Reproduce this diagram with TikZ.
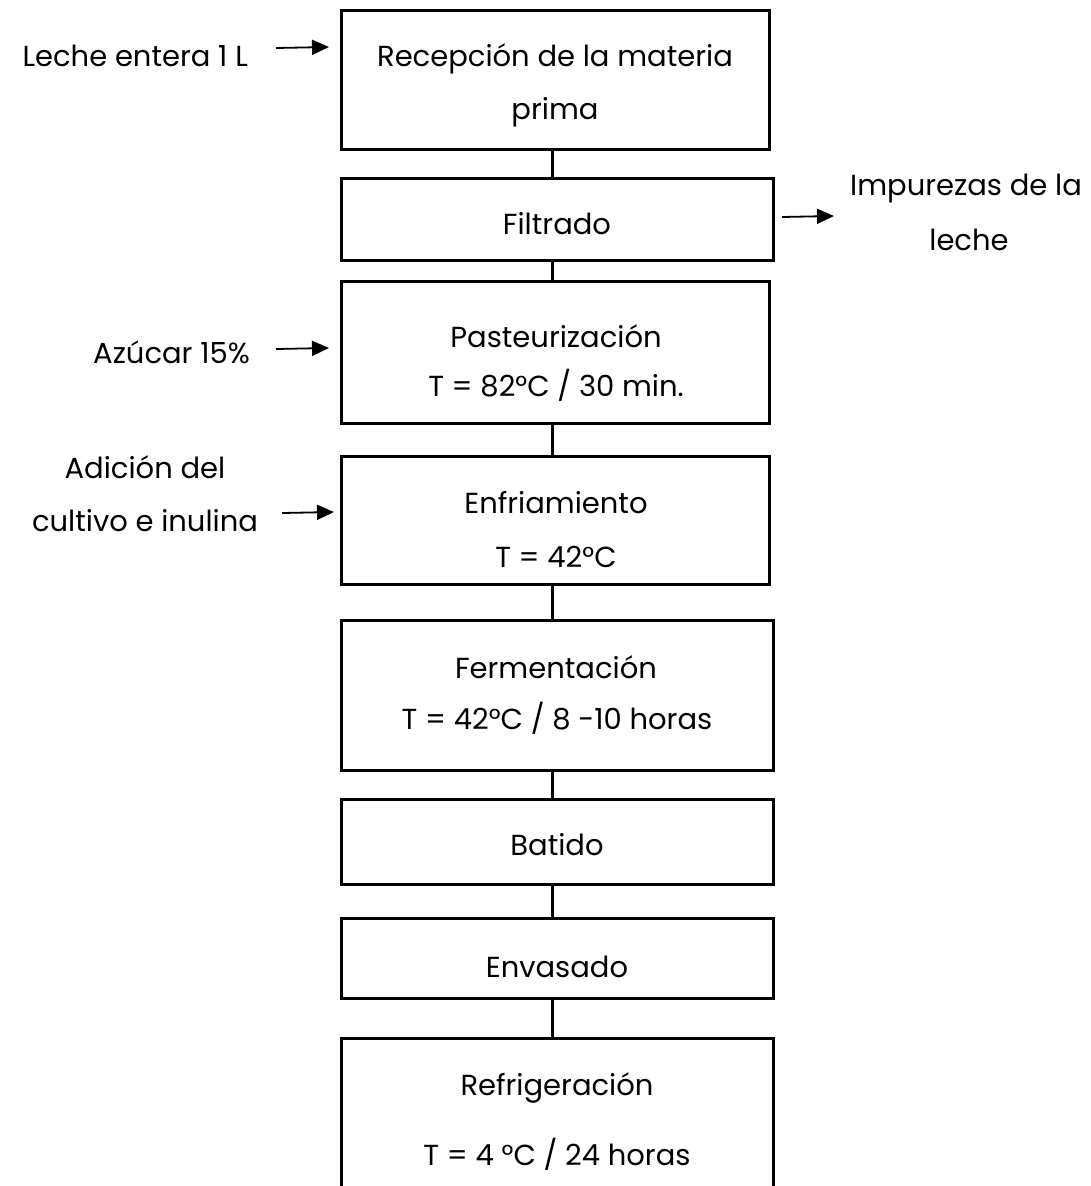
\documentclass[tikz,border=0pt]{standalone}
\usepackage{fontspec}
\setmainfont{Poppins}
\usetikzlibrary{arrows.meta}

\begin{document}
\begin{tikzpicture}[x=1pt,y=-1pt,
  stepbox/.style={draw, line width=3pt, inner sep=0pt, outer sep=0pt},
  lbl/.style={anchor=base, inner sep=0pt, font=\fontsize{29}{34}\selectfont},
  link/.style={line width=3pt},
  feed/.style={line width=1.8pt, -{Triangle[length=17pt, width=15pt]}}]

\useasboundingbox (0,0) rectangle (1091,1186);
\clip (0,0) rectangle (1091,1186);

% process boxes
\node[stepbox, minimum width=428, minimum height=139] (b1) at (555,79.5) {};
\node[stepbox, minimum width=432, minimum height=82]  (b2) at (557,219) {};
\node[stepbox, minimum width=428, minimum height=142] (b3) at (555,352) {};
\node[stepbox, minimum width=428, minimum height=128] (b4) at (555,520) {};
\node[stepbox, minimum width=432, minimum height=150] (b5) at (557,695) {};
\node[stepbox, minimum width=432, minimum height=85]  (b6) at (557,841.5) {};
\node[stepbox, minimum width=432, minimum height=80]  (b7) at (557,958) {};
\node[stepbox, minimum width=432, minimum height=180] (b8) at (557,1128) {};

% box texts
\node[lbl] (t1a) at (555,66)  {Recepción de la materia};
\node[lbl] (t1b) at (555,119) {prima};
\node[lbl] (t2)  at (557,234) {Filtrado};
\node[lbl] (t3a) at (556,347) {Pasteurización};
\node[lbl] (t3b) at (556,396) {T = 82°C / 30 min.};
\node[lbl] (t4a) at (556,513) {Enfriamiento};
\node[lbl] (t4b) at (556,567) {T = 42°C};
\node[lbl] (t5a) at (556,678) {Fermentación};
\node[lbl] (t5b) at (557,729) {T = 42°C / 8 -10 horas};
\node[lbl] (t6)  at (557,855) {Batido};
\node[lbl] (t7)  at (557,977) {Envasado};
\node[lbl] (t8a) at (557,1095) {Refrigeración};
\node[lbl] (t8b) at (557,1165) {T = 4 °C / 24 horas};

% side inputs and outputs
\node[lbl, anchor=base east] (in1) at (248,66) {Leche entera 1 L};
\node[lbl] (out2a) at (966,195) {Impurezas de la};
\node[lbl] (out2b) at (969,250) {leche};
\node[lbl, anchor=base east] (in3) at (250,363) {Azúcar 15\%};
\node[lbl] (in4a) at (145,478) {Adición del};
\node[lbl] (in4b) at (145,531) {cultivo e inulina};

% spine of the flow
\coordinate (spine) at (552,0);
\draw[link] (b1.south -| spine) -- (b2.north -| spine);
\draw[link] (b2.south -| spine) -- (b3.north -| spine);
\draw[link] (b3.south -| spine) -- (b4.north -| spine);
\draw[link] (b4.south -| spine) -- (b5.north -| spine);
\draw[link] (b5.south -| spine) -- (b6.north -| spine);
\draw[link] (b6.south -| spine) -- (b7.north -| spine);
\draw[link] (b7.south -| spine) -- (b8.north -| spine);

% feed arrows
\coordinate (a1s) at (276,48);  \coordinate (a1e) at (329,47);
\coordinate (a2s) at (782,217); \coordinate (a2e) at (834,216);
\coordinate (a3s) at (276,349); \coordinate (a3e) at (329,348);
\coordinate (a4s) at (282,513); \coordinate (a4e) at (334,512);
\draw[feed] (a1s) -- (a1e);
\draw[feed] (a2s) -- (a2e);
\draw[feed] (a3s) -- (a3e);
\draw[feed] (a4s) -- (a4e);
\end{tikzpicture}
\end{document}
